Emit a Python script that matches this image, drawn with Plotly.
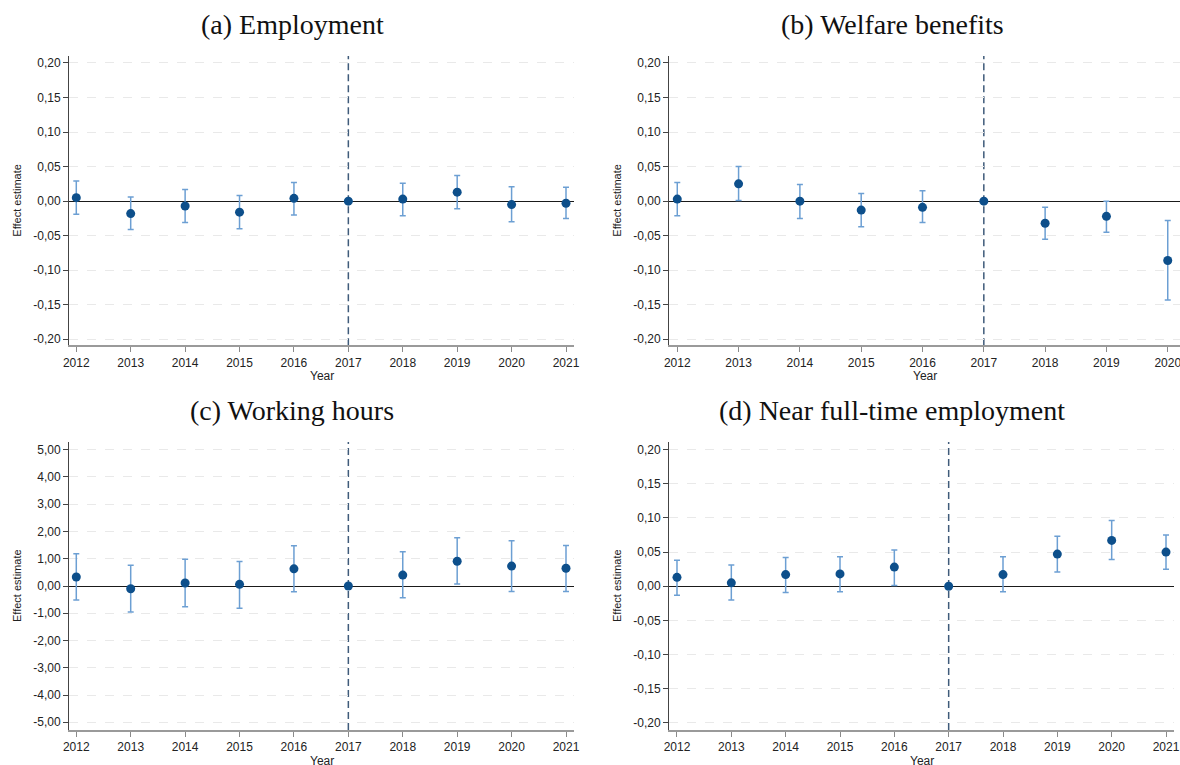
import plotly.graph_objects as go

# ---- data -------------------------------------------------------------
years = [2012, 2013, 2014, 2015, 2016, 2017, 2018, 2019, 2020, 2021]
years_welfare = [2012, 2013, 2014, 2015, 2016, 2017, 2018, 2019, 2020]

emp_est = [0.005, -0.018, -0.007, -0.016, 0.004, 0.0, 0.003, 0.013, -0.005, -0.003]
emp_lo = [-0.019, -0.041, -0.031, -0.040, -0.020, 0.0, -0.021, -0.011, -0.030, -0.025]
emp_hi = [0.029, 0.006, 0.017, 0.008, 0.027, 0.0, 0.026, 0.037, 0.021, 0.020]

wel_est = [0.003, 0.025, 0.000, -0.013, -0.009, 0.0, -0.032, -0.022, -0.086]
wel_lo = [-0.021, 0.001, -0.025, -0.037, -0.031, 0.0, -0.055, -0.045, -0.143]
wel_hi = [0.027, 0.050, 0.024, 0.011, 0.015, 0.0, -0.009, 0.000, -0.028]

hrs_est = [0.33, -0.10, 0.11, 0.06, 0.63, 0.0, 0.40, 0.91, 0.73, 0.65]
hrs_lo = [-0.51, -0.95, -0.76, -0.82, -0.21, 0.0, -0.43, 0.07, -0.20, -0.20]
hrs_hi = [1.18, 0.76, 0.98, 0.90, 1.48, 0.0, 1.26, 1.77, 1.66, 1.49]

nft_est = [0.013, 0.005, 0.017, 0.018, 0.028, 0.0, 0.017, 0.047, 0.067, 0.050]
nft_lo = [-0.013, -0.020, -0.009, -0.008, 0.001, 0.0, -0.008, 0.021, 0.039, 0.025]
nft_hi = [0.038, 0.031, 0.042, 0.043, 0.053, 0.0, 0.043, 0.073, 0.096, 0.075]

titles = ["(a) Employment", "(b) Welfare benefits",
          "(c) Working hours", "(d) Near full-time employment"]

share_ticks = [0.20, 0.15, 0.10, 0.05, 0.00, -0.05, -0.10, -0.15, -0.20]
share_labels = ["0,20", "0,15", "0,10", "0,05", "0,00", "-0,05", "-0,10", "-0,15", "-0,20"]
hour_ticks = [5, 4, 3, 2, 1, 0, -1, -2, -3, -4, -5]
hour_labels = ["5,00", "4,00", "3,00", "2,00", "1,00", "0,00",
               "-1,00", "-2,00", "-3,00", "-4,00", "-5,00"]

reference_year = 2017

# ---- styling ----------------------------------------------------------
W, H = 1180, 765
MARKER = "#0d4f8b"
CI = "#6c9fd3"
TICK_FONT = dict(family="Liberation Sans, Arial, sans-serif", size=12, color="#222222")
TITLE_FONT = dict(family="Liberation Serif, Times New Roman, serif", size=28, color="#111111")


def px_x(p):
    return p / W


def px_y(p):
    return 1 - p / H


panels = [
    # series, x range, x domain (px), y domain (px top, bottom), y range, ticks
    dict(x=years, est=emp_est, lo=emp_lo, hi=emp_hi, xr=[2011.866, 2021.147],
         xd=(69, 574), yd=(56, 345.3), yr=[-0.2087, 0.2101],
         tv=share_ticks, tt=share_labels),
    dict(x=years_welfare, est=wel_est, lo=wel_lo, hi=wel_hi, xr=[2011.865, 2020.2],
         xd=(669, 1180), yd=(56, 345.3), yr=[-0.2087, 0.2101],
         tv=share_ticks, tt=share_labels),
    dict(x=years, est=hrs_est, lo=hrs_lo, hi=hrs_hi, xr=[2011.866, 2021.147],
         xd=(69, 574), yd=(442, 730), yr=[-5.284, 5.284],
         tv=hour_ticks, tt=hour_labels),
    dict(x=years, est=nft_est, lo=nft_lo, hi=nft_hi, xr=[2011.853, 2021.147],
         xd=(669, 1174), yd=(442, 730), yr=[-0.2103, 0.211],
         tv=share_ticks, tt=share_labels),
]

fig = go.Figure()
layout = dict(
    width=W, height=H, autosize=False,
    margin=dict(l=0, r=0, t=0, b=0, pad=0),
    paper_bgcolor="white", plot_bgcolor="white",
    showlegend=False,
)
annotations = []
shapes = []

for i, p in enumerate(panels, start=1):
    sfx = "" if i == 1 else str(i)
    xa, ya = "x" + sfx, "y" + sfx
    plus = [h - e for h, e in zip(p["hi"], p["est"])]
    minus = [e - l for e, l in zip(p["est"], p["lo"])]
    fig.add_trace(go.Scatter(
        x=p["x"], y=p["est"], mode="markers", xaxis=xa, yaxis=ya,
        marker=dict(color=MARKER, size=9, line=dict(width=0)),
        error_y=dict(type="data", symmetric=False, array=plus, arrayminus=minus,
                     color=CI, thickness=1.5, width=3),
        hoverinfo="x+y",
    ))
    layout["xaxis" + sfx] = dict(
        domain=[px_x(p["xd"][0]), px_x(p["xd"][1])], range=p["xr"],
        anchor=ya, tickvals=p["x"], ticktext=[str(v) for v in p["x"]],
        ticks="outside", ticklen=5, tickwidth=1, tickcolor="#8a8a8a",
        showline=True, linecolor="#9a9a9a", linewidth=2,
        showgrid=False, zeroline=False, tickfont=TICK_FONT, fixedrange=True,
        automargin=False, ticklabeloverflow="allow",
    )
    layout["yaxis" + sfx] = dict(
        domain=[px_y(p["yd"][1]), px_y(p["yd"][0])], range=p["yr"],
        anchor=xa, tickvals=p["tv"], ticktext=p["tt"],
        ticks="outside", ticklen=5, tickwidth=1, tickcolor="#444444",
        showline=True, linecolor="#444444", linewidth=1,
        showgrid=True, gridcolor="#e9e9e9", gridwidth=1, griddash="dash",
        zeroline=True, zerolinecolor="#1a1a1a", zerolinewidth=1.3,
        tickfont=TICK_FONT, fixedrange=True, automargin=False,
        ticklabeloverflow="allow",
    )
    # reference year marker
    shapes.append(dict(type="line", xref=xa, yref=ya + " domain",
                       x0=reference_year, x1=reference_year, y0=0, y1=1,
                       line=dict(color="#3f5b7a", width=1.5, dash="7px,4px"),
                       layer="below"))
    # axis titles
    cx = (p["xd"][0] + p["xd"][1]) / 2
    annotations.append(dict(text="Year", xref="paper", yref="paper",
                            x=px_x(cx), y=px_y(p["yd"][1] + 31), showarrow=False,
                            font=TICK_FONT, xanchor="center", yanchor="middle"))
    cy = (p["yd"][0] + p["yd"][1]) / 2
    ylab_x = 17 if p["xd"][0] < 300 else 617
    annotations.append(dict(text="Effect estimate", xref="paper", yref="paper",
                            x=px_x(ylab_x), y=px_y(cy), showarrow=False, textangle=-90,
                            font=dict(family=TICK_FONT["family"], size=11, color="#222222"),
                            xanchor="center", yanchor="middle"))
    # panel title
    tx = 292 if p["xd"][0] < 300 else 892
    ty = 25 if p["yd"][0] < 300 else 410
    annotations.append(dict(text=titles[i - 1], xref="paper", yref="paper",
                            x=px_x(tx), y=px_y(ty), showarrow=False,
                            font=TITLE_FONT, xanchor="center", yanchor="middle"))

layout["annotations"] = annotations
layout["shapes"] = shapes
fig.update_layout(**layout)
fig.write_html("out.html")
